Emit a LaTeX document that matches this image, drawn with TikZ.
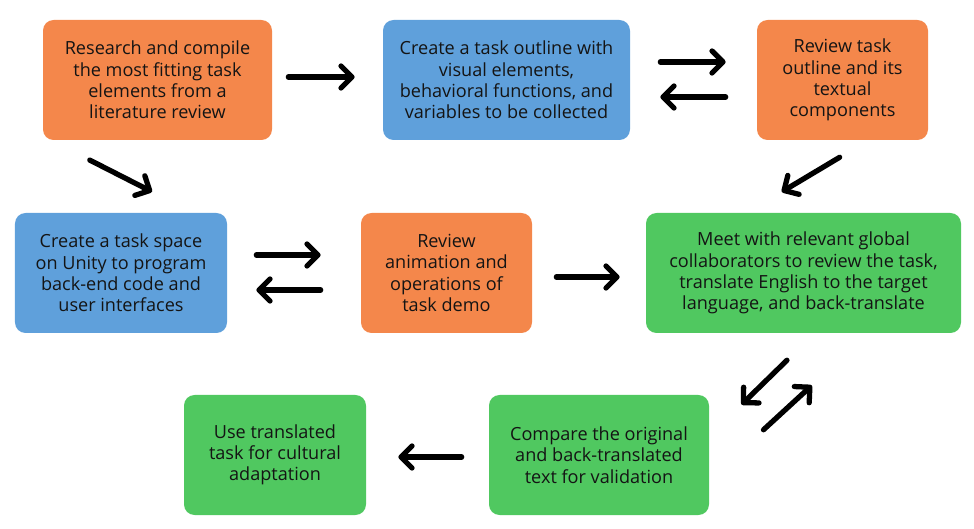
\documentclass[tikz,border=0pt]{standalone}
\usepackage{fontspec}
\setmainfont{Open Sans}
\usepackage{xcolor}
\definecolor{StepOrange}{HTML}{F4874B}
\definecolor{StepBlue}{HTML}{5FA0DB}
\definecolor{StepGreen}{HTML}{50C860}
\definecolor{InkBlack}{HTML}{141414}
\usepackage{tikz}
\usetikzlibrary{arrows.meta, positioning, calc}
\tikzset{
  % Box styles
  stepbox/.style={rectangle, rounded corners=6pt, draw=none, minimum height=2.4cm, text=InkBlack, align=center, font=\fontsize{10.3}{12.1}\selectfont, inner sep=2pt},
  orangebox/.style={stepbox, fill=StepOrange},
  bluebox/.style={stepbox, fill=StepBlue},
  greenbox/.style={stepbox, fill=StepGreen},
  % Arrow styles
  arrow/.style={-{Straight Barb[length=0.22cm, width=0.44cm, round]}, line width=3pt, line cap=round, black}
}
\begin{document}
\begin{tikzpicture}
  \useasboundingbox (0,0) rectangle (19.48,10.56);

  % Top row
  \node[orangebox, minimum width=4.58cm] (lit) at (3.15,8.96) {Research and compile\\the most fitting task\\elements from a\\literature review};
  \node[bluebox, minimum width=4.94cm] (outline) at (10.13,8.96) {Create a task outline with\\visual elements,\\behavioral functions, and\\variables to be collected};
  \node[orangebox, minimum width=3.42cm] (revout) at (16.85,8.96) {Review task\\outline and its\\textual\\components};

  % Middle row
  \node[bluebox, minimum width=4.24cm] (unity) at (2.42,5.10) {Create a task space\\on Unity to program\\back-end code and\\user interfaces};
  \node[orangebox, minimum width=3.42cm] (revanim) at (8.93,5.10) {Review\\animation and\\operations of\\task demo};
  \node[greenbox, minimum width=6.30cm] (meet) at (16.07,5.10) {Meet with relevant global\\collaborators to review the task,\\translate English to the target\\language, and back-translate};

  % Bottom row
  \node[greenbox, minimum width=3.64cm] (use) at (5.50,1.46) {Use translated\\task for cultural\\adaptation};
  \node[greenbox, minimum width=4.40cm] (compare) at (11.98,1.46) {Compare the original\\and back-translated\\text for validation};

  % Connectors
  \draw[arrow, shorten <=0.32cm, shorten >=0.56cm] ([yshift=0.06cm]lit.east) -- ([yshift=0.06cm]outline.west);
  \draw[arrow, shorten <=0.60cm, shorten >=0.62cm] ([yshift=0.36cm]outline.east) -- ([yshift=0.36cm]revout.west);
  \draw[arrow, shorten <=0.62cm, shorten >=0.60cm] ([yshift=-0.34cm]revout.west) -- ([yshift=-0.34cm]outline.east);
  \draw[arrow, shorten <=0.66cm, shorten >=0.81cm] ([xshift=0.51cm]revout.south) -- ([xshift=-1.13cm]meet.north);
  \draw[arrow, shorten <=0.87cm, shorten >=0.92cm] ([xshift=-2.13cm]lit.south) -- ([xshift=1.44cm]unity.north);
  \draw[arrow, shorten <=0.58cm, shorten >=0.80cm] ([yshift=0.36cm]unity.east) -- ([yshift=0.36cm]revanim.west);
  \draw[arrow, shorten <=0.80cm, shorten >=0.58cm] ([yshift=-0.34cm]revanim.west) -- ([yshift=-0.34cm]unity.east);
  \draw[arrow, shorten <=0.48cm, shorten >=0.52cm] ([yshift=-0.08cm]revanim.east) -- ([yshift=-0.08cm]meet.west);
  \draw[arrow, shorten <=0.77cm, shorten >=0.90cm] ([xshift=0.22cm]meet.south) -- ([yshift=0.38cm]compare.east);
  \draw[arrow, shorten <=1.47cm, shorten >=1.54cm] ([yshift=-0.49cm]compare.east) -- ([xshift=1.30cm]meet.south);
  \draw[arrow, shorten <=0.54cm, shorten >=0.64cm] ([yshift=-0.04cm]compare.west) -- ([yshift=-0.04cm]use.east);
\end{tikzpicture}
\end{document}
